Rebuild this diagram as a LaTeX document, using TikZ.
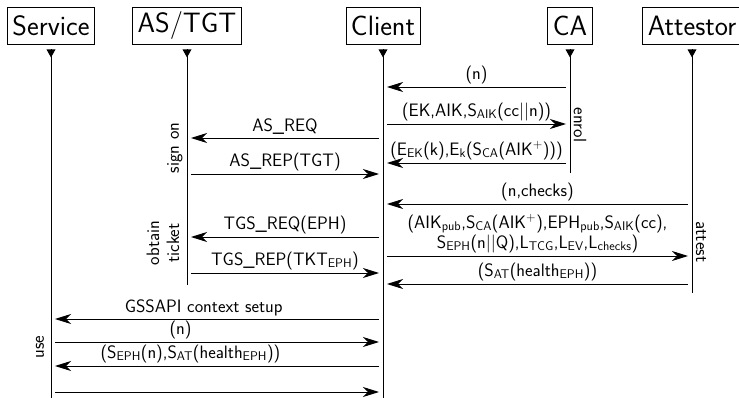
\documentclass[tikz,border=0pt]{standalone}
\usetikzlibrary{arrows.meta}
\renewcommand{\familydefault}{\sfdefault}
\newcommand{\sub}[1]{\textsubscript{#1}}
\newcommand{\sps}[1]{\textsuperscript{#1}}
\begin{document}
\begin{tikzpicture}[x=1pt,y=-1pt,
  actor/.style={draw,line width=0.9pt,minimum height=37pt,inner xsep=5pt,
    font=\fontsize{28}{32}\selectfont},
  life/.style={line width=0.9pt},
  msg/.style={line width=0.9pt,-{Stealth[length=16pt,width=10pt,inset=5pt]},
    shorten >=4pt,shorten <=4pt},
  lbl/.style={above,inner sep=3pt,font=\fontsize{18}{20}\selectfont},
  phase/.style={font=\fontsize{18}{20}\selectfont,inner sep=0pt,align=center}]
\useasboundingbox (0,0) rectangle (739,398);

% participants
\node[actor] (svc)   at (51,25.5)  {Service};
\node[actor] (astgt) at (187,25.5) {AS/TGT};
\node[actor] (cli)   at (383,25.5) {Client};
\node[actor] (ca)    at (570,25.5) {CA};
\node[actor] (att)   at (692,25.5) {Attestor};

% lifeline ends
\coordinate (svc-end)   at (51,400);
\coordinate (astgt-end) at (187,285);
\coordinate (cli-end)   at (383,400);
\coordinate (ca-end)    at (570,173);
\coordinate (att-end)   at (692,293);

% lifelines with their start markers
\foreach \p in {svc,astgt,cli,ca,att}{
  \fill ([xshift=-4.5pt,yshift=-5pt]\p.south) -- ([xshift=4.5pt,yshift=-5pt]\p.south)
        -- ([yshift=-13pt]\p.south) -- cycle;
  \draw[life] ([yshift=-5pt]\p.south) -- (\p-end);
}

% enrolment with the CA
\draw[msg] (ca |- 0,87) -- node[lbl]{(n)} (cli |- 0,87);
\draw[msg] (cli |- 0,124) -- node[lbl]{(EK,AIK,S\sub{AIK}(cc||n))} (ca |- 0,124);
\draw[msg] (ca |- 0,163) -- node[lbl]{(E\sub{EK}(k),E\sub{k}(S\sub{CA}(AIK\sps{+})))} (cli |- 0,163);

% sign on
\draw[msg] (cli |- 0,138) -- node[lbl]{AS\_REQ} (astgt |- 0,138);
\draw[msg] (astgt |- 0,174) -- node[lbl]{AS\_REP(TGT)} (cli |- 0,174);

% attestation
\draw[msg] (att |- 0,204) -- node[lbl]{(n,checks)} (cli |- 0,204);
\draw[msg] (cli |- 0,256) -- node[lbl,align=center]{(AIK\sub{pub},S\sub{CA}(AIK\sps{+}),EPH\sub{pub},S\sub{AIK}(cc),\\S\sub{EPH}(n||Q),L\sub{TCG},L\sub{EV},L\sub{checks})} (att |- 0,256);
\draw[msg] (att |- 0,284) -- node[lbl]{(S\sub{AT}(health\sub{EPH}))} (cli |- 0,284);

% ticket
\draw[msg] (cli |- 0,237) -- node[lbl]{TGS\_REQ(EPH)} (astgt |- 0,237);
\draw[msg] (astgt |- 0,273) -- node[lbl]{TGS\_REP(TKT\sub{EPH})} (cli |- 0,273);

% use of the service
\draw[msg] (cli |- 0,319) -- node[lbl,pos=0.54]{GSSAPI context setup} (svc |- 0,319);
\draw[msg] (svc |- 0,342) -- node[lbl,pos=0.39]{(n)} (cli |- 0,342);
\draw[msg] (cli |- 0,366) -- node[lbl,pos=0.58]{(S\sub{EPH}(n),S\sub{AT}(health\sub{EPH}))} (svc |- 0,366);
\draw[msg] (svc |- 0,392) -- (cli |- 0,392);

% phase labels
\node[phase,rotate=-90] (enrol)  at (580,125) {enrol};
\node[phase,rotate=-90] (attest) at (701,242) {attest};
\node[phase,rotate=90]  (signon) at (175,148) {sign on};
\node[phase,rotate=90]  (obtain) at (163,243) {obtain\\ticket};
\node[phase,rotate=90]  (use)    at (40,347)  {use};
\end{tikzpicture}
\end{document}
